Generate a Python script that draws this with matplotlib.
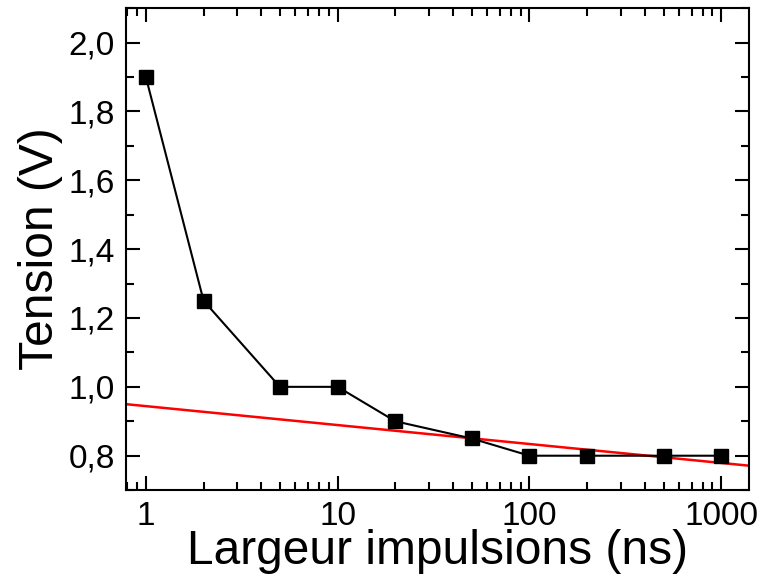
import matplotlib
matplotlib.use("Agg")
import matplotlib.pyplot as plt
import numpy as np
from matplotlib.ticker import FuncFormatter, LogLocator, MultipleLocator, FixedLocator

plt.rcParams['font.family'] = ['Liberation Sans', 'DejaVu Sans']

pulse_ns = [1, 2, 5, 10, 20, 50, 100, 200, 500, 1000]
tension_v = [1.9, 1.25, 1.0, 1.0, 0.9, 0.85, 0.8, 0.8, 0.8, 0.8]
fit_intercept = 0.944
fit_slope = -0.055  # per decade

x_lim = (0.787, 1400)
y_lim = (0.7, 2.1)

fig = plt.figure(figsize=(7.63, 5.78), dpi=100)
ax = fig.add_axes([0.165, 0.152, 0.817, 0.834])

ax.plot(pulse_ns, tension_v, color='black', lw=1.5, marker='s', markersize=10,
        markerfacecolor='black', markeredgecolor='black', zorder=3)
xf = np.array(x_lim)
ax.plot(xf, fit_intercept + fit_slope * np.log10(xf), color='red', lw=1.8, zorder=2)

ax.set_xscale('log')
ax.set_xlim(*x_lim)
ax.set_ylim(*y_lim)
ax.xaxis.set_major_locator(FixedLocator([1, 10, 100, 1000]))
ax.xaxis.set_minor_locator(LogLocator(base=10, subs=np.arange(2, 10), numticks=20))
ax.xaxis.set_major_formatter(FuncFormatter(lambda v, p: f"{v:g}"))
ax.yaxis.set_major_locator(MultipleLocator(0.2))
ax.yaxis.set_minor_locator(MultipleLocator(0.1))
ax.yaxis.set_major_formatter(FuncFormatter(lambda v, p: f"{v:.1f}".replace('.', ',')))

ax.tick_params(which='both', direction='in', top=True, right=True, width=1.5)
ax.tick_params(which='major', length=10, labelsize=24, pad=8)
ax.tick_params(which='minor', length=6)
for s in ax.spines.values():
    s.set_linewidth(1.5)

ax.set_xlabel('Largeur impulsions (ns)', fontsize=34.5, labelpad=-2)
ax.set_ylabel('Tension (V)', fontsize=34.5, labelpad=4)

fig.savefig('out.png', dpi=100)
